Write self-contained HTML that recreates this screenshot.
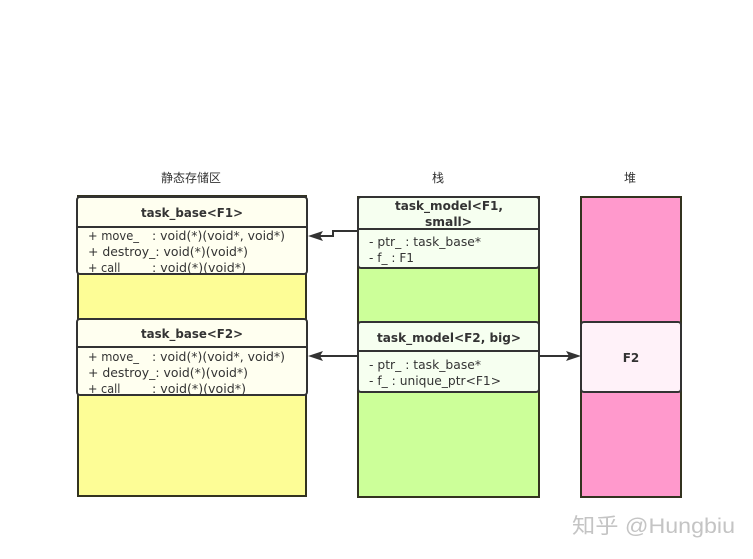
<!DOCTYPE html>
<html><head><meta charset="utf-8"><style>
html,body{margin:0;padding:0;background:#fff;}
svg{display:block;}
text{font-family:"DejaVu Sans","Liberation Sans","Noto Sans CJK SC",sans-serif;fill:#333;}
.b{font-weight:bold;font-size:12px;}
.m{font-size:12px;}
.cn{font-family:"Liberation Sans","Noto Sans CJK SC",sans-serif;font-size:12px;fill:#333;}
</style></head><body>
<svg width="753" height="559" viewBox="0 0 753 559" xmlns="http://www.w3.org/2000/svg">
<rect width="753" height="559" fill="#fff"/>
<text class="cn" x="191" y="182" text-anchor="middle">静态存储区</text>
<text class="cn" x="438" y="182" text-anchor="middle">栈</text>
<text class="cn" x="630" y="182" text-anchor="middle">堆</text>

<rect x="78" y="196" width="228" height="300" fill="#fdfd96" stroke="#33331f" stroke-width="2"/>
<rect x="358" y="197" width="181" height="300" fill="#ccff99" stroke="#33331f" stroke-width="2"/>
<rect x="581" y="197" width="100" height="300" fill="#ff99cc" stroke="#33331f" stroke-width="2"/>

<rect x="77" y="197" width="230" height="77" rx="3" fill="#fffff0" stroke="#333" stroke-width="2"/>
<line x1="77" y1="227" x2="307" y2="227" stroke="#333" stroke-width="2"/>
<text class="b" x="141" y="217" textLength="102" lengthAdjust="spacingAndGlyphs">task_base&lt;F1&gt;</text>
<text class="m" x="88" y="240" textLength="51" lengthAdjust="spacingAndGlyphs">+ move_</text>
<text class="m" x="152" y="240" textLength="133" lengthAdjust="spacingAndGlyphs">: void(*)(void*, void*)</text>
<text class="m" x="88" y="256" textLength="160" lengthAdjust="spacingAndGlyphs">+ destroy_: void(*)(void*)</text>
<text class="m" x="88" y="272" textLength="38" lengthAdjust="spacingAndGlyphs">+ call_</text>
<text class="m" x="152" y="272" textLength="94" lengthAdjust="spacingAndGlyphs">: void(*)(void*)</text>

<rect x="77" y="319" width="230" height="76" rx="3" fill="#fffff0" stroke="#333" stroke-width="2"/>
<line x1="77" y1="347" x2="307" y2="347" stroke="#333" stroke-width="2"/>
<text class="b" x="141" y="338" textLength="102" lengthAdjust="spacingAndGlyphs">task_base&lt;F2&gt;</text>
<text class="m" x="88" y="361" textLength="51" lengthAdjust="spacingAndGlyphs">+ move_</text>
<text class="m" x="152" y="361" textLength="133" lengthAdjust="spacingAndGlyphs">: void(*)(void*, void*)</text>
<text class="m" x="88" y="377" textLength="160" lengthAdjust="spacingAndGlyphs">+ destroy_: void(*)(void*)</text>
<text class="m" x="88" y="393" textLength="38" lengthAdjust="spacingAndGlyphs">+ call_</text>
<text class="m" x="152" y="393" textLength="94" lengthAdjust="spacingAndGlyphs">: void(*)(void*)</text>

<rect x="358" y="197" width="181" height="71" rx="3" fill="#f6fff0" stroke="#333" stroke-width="2"/>
<line x1="358" y1="229" x2="539" y2="229" stroke="#333" stroke-width="2"/>
<text class="b" x="395" y="210" textLength="108" lengthAdjust="spacingAndGlyphs">task_model&lt;F1,</text>
<text class="b" x="425" y="226" textLength="47" lengthAdjust="spacingAndGlyphs">small&gt;</text>
<text class="m" x="369" y="246" textLength="112" lengthAdjust="spacingAndGlyphs">- ptr_ : task_base*</text>
<text class="m" x="369" y="262" textLength="45" lengthAdjust="spacingAndGlyphs">- f_ : F1</text>

<rect x="358" y="322" width="181" height="70" rx="3" fill="#f6fff0" stroke="#333" stroke-width="2"/>
<line x1="358" y1="351" x2="539" y2="351" stroke="#333" stroke-width="2"/>
<text class="b" x="377" y="342" textLength="144" lengthAdjust="spacingAndGlyphs">task_model&lt;F2, big&gt;</text>
<text class="m" x="369" y="369" textLength="112" lengthAdjust="spacingAndGlyphs">- ptr_ : task_base*</text>
<text class="m" x="369" y="385" textLength="132" lengthAdjust="spacingAndGlyphs">- f_ : unique_ptr&lt;F1&gt;</text>

<rect x="581" y="322" width="100" height="70" rx="3" fill="#fff2f9" stroke="#333" stroke-width="2"/>
<text class="b" x="631" y="362" text-anchor="middle">F2</text>

<polyline points="358,231 333,231 333,236 320,236" fill="none" stroke="#333" stroke-width="2"/>
<polygon points="308,236 323,231 320,236 323,241" fill="#333"/>
<line x1="358" y1="356" x2="320" y2="356" stroke="#333" stroke-width="2"/>
<polygon points="308,356 323,351 320,356 323,361" fill="#333"/>
<line x1="539" y1="356" x2="570" y2="356" stroke="#333" stroke-width="2"/>
<polygon points="581,356 566,351 569,356 566,361" fill="#333"/>

<text x="572" y="533" textLength="163" lengthAdjust="spacingAndGlyphs" style="font-family:'Liberation Sans','Noto Sans CJK SC',sans-serif;font-size:21px;fill:#c4c4c4;">知乎 @Hungbiu</text>
</svg>
</body></html>
